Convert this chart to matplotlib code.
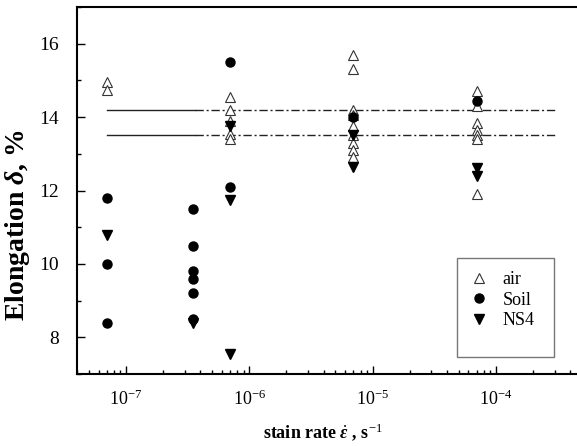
import numpy as np
import matplotlib
matplotlib.use("Agg")
import matplotlib.pyplot as plt
from matplotlib.patches import Rectangle
from matplotlib.ticker import LogLocator, MultipleLocator, NullFormatter

# ---------------------------------------------------------------- #
# data
rates = [7e-8, 3.5e-7, 7e-7, 7e-6, 7e-5]    # strain rate columns, s^-1

air_y = [[14.95, 14.73],
         [],
         [14.55, 14.2, 13.9, 13.55, 13.4],
         [15.7, 15.3, 14.2, 14.05, 13.75, 13.5, 13.3, 13.1, 12.9],
         [14.7, 14.3, 13.85, 13.65, 13.5, 13.4, 11.9]]
soil_y = [[11.8, 10.0, 8.4],
          [11.5, 10.5, 9.8, 9.6, 9.2, 8.5],
          [15.5, 12.1],
          [14.0],
          [14.45]]
ns4_y = [[10.8],
         [8.4],
         [13.75, 11.75, 7.55],
         [13.5, 12.65],
         [12.6, 12.4]]

# reference band (air scatter limits)
ref_levels = [14.2, 13.5]
ref_x = [7e-8, 3.65e-7, 3e-4]   # start, change solid -> dash-dot, end

# ---------------------------------------------------------------- #
plt.rcParams['font.family'] = ['Liberation Serif', 'DejaVu Serif']
plt.rcParams['mathtext.fontset'] = 'custom'
plt.rcParams['mathtext.rm'] = 'Liberation Serif'
plt.rcParams['mathtext.it'] = 'Liberation Serif:italic:bold'
plt.rcParams['mathtext.bf'] = 'Liberation Serif:bold'


def flatten(cols):
    xs, ys = [], []
    for r, vals in zip(rates, cols):
        xs += [r] * len(vals)
        ys += vals
    return np.array(xs), np.array(ys)


W, H = 577, 446
fig = plt.figure(figsize=(W / 100, H / 100), dpi=100)
# axes box in pixels: left 77, right 582 (cropped off), top 7, bottom 374
ax = fig.add_axes([77 / W, (H - 374) / H, (582 - 77) / W, (374 - 7) / H])

for lvl in ref_levels:
    ax.plot(ref_x[:2], [lvl, lvl], color='#222222', lw=1.0, zorder=1)
    ax.plot(ref_x[1:], [lvl, lvl], color='#222222', lw=1.0,
            dashes=(6, 2, 1.5, 2), zorder=1)

x, y = flatten(air_y)
ax.plot(x, y, ls='none', marker='^', ms=7, mfc='white', mec='#333333',
        mew=0.8, label='air', zorder=3)
x, y = flatten(soil_y)
ax.plot(x, y, ls='none', marker='o', ms=6.5, mfc='black', mec='black',
        label='Soil', zorder=4)
x, y = flatten(ns4_y)
ax.plot(x, y, ls='none', marker='v', ms=7, mfc='black', mec='black',
        label='NS4', zorder=4)

ax.set_xscale('log')
ax.set_xlim(4e-8, 5e-4)
ax.set_ylim(7, 17)
ax.yaxis.set_major_locator(MultipleLocator(2))
ax.yaxis.set_minor_locator(MultipleLocator(1))
ax.xaxis.set_major_locator(LogLocator(base=10, numticks=10))
ax.xaxis.set_minor_locator(LogLocator(base=10, subs=np.arange(2, 10), numticks=10))
ax.xaxis.set_minor_formatter(NullFormatter())

ax.tick_params(which='both', direction='in', top=False, right=False, width=1.0)
ax.tick_params(which='major', length=6)
ax.tick_params(which='minor', length=3)
ax.tick_params(axis='y', labelsize=14, pad=13)
ax.tick_params(axis='x', labelsize=13, pad=11)
for s in ax.spines.values():
    s.set_linewidth(1.5)

# axis titles (placed by hand, they sit off-centre in the original)
fig.text(18 / W, 1 - 225 / H, r'Elongation $\delta$, %', rotation=90,
         fontsize=20, fontweight='bold', ha='center', va='center')
fig.text(323 / W, 1 - 432 / H, r'stain rate $\dot{\varepsilon}$ , s$^{-1}$',
         fontsize=13, fontweight='bold', ha='center', va='center')

# legend with plain grey box
leg = fig.legend(loc='upper left', bbox_to_anchor=(459 / W, 1 - 262 / H),
                 frameon=False, fontsize=13, handlelength=1.2,
                 handletextpad=0.7, labelspacing=0.2, borderpad=0)
fig.patches.append(Rectangle((457 / W, 1 - 357 / H), 97 / W, 99 / H,
                             transform=fig.transFigure, fill=False,
                             ec='#777777', lw=1.0))

fig.savefig('out.png', dpi=100, facecolor='white')
